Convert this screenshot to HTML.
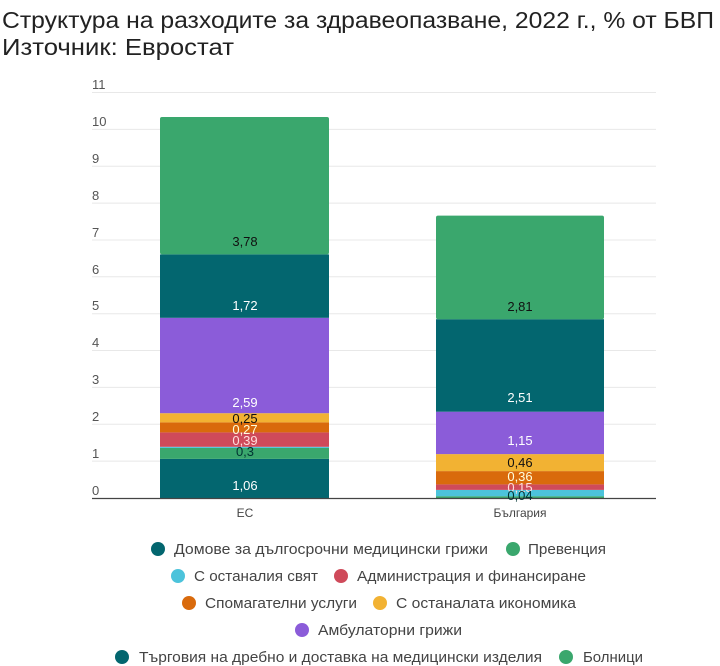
<!DOCTYPE html>
<html><head><meta charset="utf-8"><style>
html,body{margin:0;padding:0;background:#fff;width:720px;height:666px;overflow:hidden}
svg{display:block;font-family:"Liberation Sans",sans-serif}
</style></head><body>
<svg width="720" height="666" viewBox="0 0 720 666">
<text x="2" y="28" font-size="23" fill="#222" textLength="712" lengthAdjust="spacingAndGlyphs">Структура на разходите за здравеопазване, 2022 г., % от БВП</text>
<text x="2" y="55" font-size="23" fill="#222" textLength="232" lengthAdjust="spacingAndGlyphs">Източник: Евростат</text>
<g stroke="#e8e8e8" stroke-width="1">
<line x1="92" x2="656" y1="92.5" y2="92.5"/><line x1="92" x2="656" y1="129.4" y2="129.4"/>
<line x1="92" x2="656" y1="166.2" y2="166.2"/><line x1="92" x2="656" y1="203.1" y2="203.1"/>
<line x1="92" x2="656" y1="240" y2="240"/><line x1="92" x2="656" y1="276.8" y2="276.8"/>
<line x1="92" x2="656" y1="313.7" y2="313.7"/><line x1="92" x2="656" y1="350.5" y2="350.5"/>
<line x1="92" x2="656" y1="387.4" y2="387.4"/><line x1="92" x2="656" y1="424.3" y2="424.3"/>
<line x1="92" x2="656" y1="461.1" y2="461.1"/>
</g>
<g font-size="13" fill="#555">
<text x="92" y="89">11</text><text x="92" y="126">10</text><text x="92" y="163">9</text>
<text x="92" y="200">8</text><text x="92" y="237">7</text><text x="92" y="274">6</text>
<text x="92" y="310">5</text><text x="92" y="347">4</text><text x="92" y="384">3</text>
<text x="92" y="421">2</text><text x="92" y="458">1</text><text x="92" y="495">0</text>
</g>
<!-- EU -->
<rect x="160" y="458.9" width="169" height="39.1" fill="#03666F"/>
<rect x="160" y="447.9" width="169" height="11" fill="#3AA76D"/>
<rect x="160" y="446.8" width="169" height="1.1" fill="#4CC3DB"/>
<rect x="160" y="432.4" width="169" height="14.4" fill="#CF4A5A"/>
<rect x="160" y="422.4" width="169" height="10" fill="#D96A0C"/>
<rect x="160" y="413.2" width="169" height="9.2" fill="#F2B233"/>
<rect x="160" y="317.8" width="169" height="95.4" fill="#8B5CD9"/>
<rect x="160" y="254.4" width="169" height="63.4" fill="#03666F"/>
<rect x="160" y="117" width="169" height="137.4" rx="2" fill="#3AA76D"/>
<!-- BG -->
<rect x="436" y="496.2" width="168" height="1.8" fill="#3AA76D"/>
<rect x="436" y="489.9" width="168" height="6.3" fill="#4CC3DB"/>
<rect x="436" y="484.4" width="168" height="5.5" fill="#CF4A5A"/>
<rect x="436" y="471.1" width="168" height="13.3" fill="#D96A0C"/>
<rect x="436" y="454.1" width="168" height="17" fill="#F2B233"/>
<rect x="436" y="411.7" width="168" height="42.4" fill="#8B5CD9"/>
<rect x="436" y="319.2" width="168" height="92.5" fill="#03666F"/>
<rect x="436" y="215.6" width="168" height="103.6" rx="2" fill="#3AA76D"/>
<line x1="92" x2="656" y1="498.5" y2="498.5" stroke="#444" stroke-width="1.2"/>
<g font-size="13" text-anchor="middle">
<text x="245" y="246" fill="#111">3,78</text>
<text x="245" y="310" fill="#fff">1,72</text>
<text x="245" y="407" fill="#fff">2,59</text>
<text x="245" y="423" fill="#111">0,25</text>
<text x="245" y="434" fill="#ffd">0,27</text>
<text x="245" y="445" fill="#fdd">0,39</text>
<text x="245" y="456" fill="#033">0,3</text>
<text x="245" y="490" fill="#fff">1,06</text>
<text x="520" y="311" fill="#111">2,81</text>
<text x="520" y="402" fill="#fff">2,51</text>
<text x="520" y="445" fill="#fff">1,15</text>
<text x="520" y="467" fill="#111">0,46</text>
<text x="520" y="481" fill="#ffd">0,36</text>
<text x="520" y="492" fill="#fdd">0,15</text>
<text x="520" y="500" fill="#033">0,04</text>
</g>
<g font-size="12" fill="#444" text-anchor="middle">
<text x="245" y="517">ЕС</text><text x="520" y="517">България</text>
</g>
<g font-size="15" fill="#444" lengthAdjust="spacingAndGlyphs">
<circle cx="158" cy="549" r="7" fill="#03666F"/><text x="174" y="554" textLength="314" lengthAdjust="spacingAndGlyphs">Домове за дългосрочни медицински грижи</text>
<circle cx="513" cy="549" r="7" fill="#3AA76D"/><text x="528" y="554" textLength="78" lengthAdjust="spacingAndGlyphs">Превенция</text>
<circle cx="178" cy="576" r="7" fill="#4CC3DB"/><text x="194" y="581" textLength="124" lengthAdjust="spacingAndGlyphs">С останалия свят</text>
<circle cx="341" cy="576" r="7" fill="#CF4A5A"/><text x="357" y="581" textLength="229" lengthAdjust="spacingAndGlyphs">Администрация и финансиране</text>
<circle cx="189" cy="603" r="7" fill="#D96A0C"/><text x="205" y="608" textLength="152" lengthAdjust="spacingAndGlyphs">Спомагателни услуги</text>
<circle cx="380" cy="603" r="7" fill="#F2B233"/><text x="396" y="608" textLength="180" lengthAdjust="spacingAndGlyphs">С останалата икономика</text>
<circle cx="302" cy="630" r="7" fill="#8B5CD9"/><text x="318" y="635" textLength="144" lengthAdjust="spacingAndGlyphs">Амбулаторни грижи</text>
<circle cx="122" cy="657" r="7" fill="#03666F"/><text x="139" y="662" textLength="403" lengthAdjust="spacingAndGlyphs">Търговия на дребно и доставка на медицински изделия</text>
<circle cx="566" cy="657" r="7" fill="#3AA76D"/><text x="583" y="662" textLength="60" lengthAdjust="spacingAndGlyphs">Болници</text>
</g>
</svg>
</body></html>
